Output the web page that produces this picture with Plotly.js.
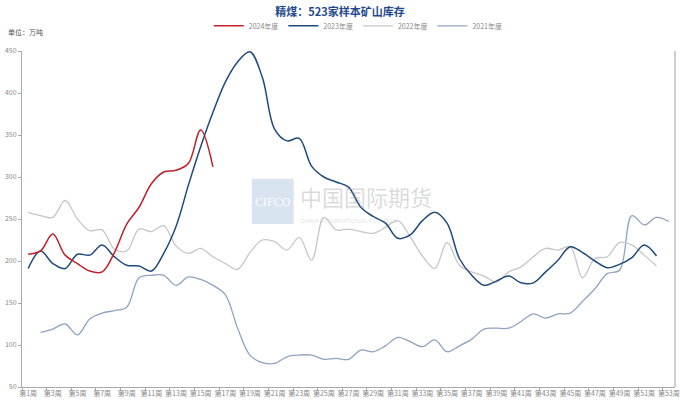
<!DOCTYPE html>
<html><head><meta charset="utf-8">
<script src="https://cdn.plot.ly/plotly-3.0.1.min.js"></script>
<style>html,body{margin:0;padding:0;background:#fff}#chart{width:680px;height:400px}</style>
</head><body><div id="chart"></div>
<script>
const weeks = ["第1周","第2周","第3周","第4周","第5周","第6周","第7周","第8周","第9周","第10周",
"第11周","第12周","第13周","第14周","第15周","第16周","第17周","第18周","第19周","第20周",
"第21周","第22周","第23周","第24周","第25周","第26周","第27周","第28周","第29周","第30周",
"第31周","第32周","第33周","第34周","第35周","第36周","第37周","第38周","第39周","第40周",
"第41周","第42周","第43周","第44周","第45周","第46周","第47周","第48周","第49周","第50周",
"第51周","第52周","第53周"];

const v2024 = [208,212,232,207,197,188,187,210,244,264,292,306,308,316,356,312];

const v2023 = [191,212,197,191,208,207,219,205,195,194,188,209,241,290,336,377,413,437,449,419,
357,343,346,313,300,294,288,264,253,245,227,231,248,258,245,203,183,171,176,182,
174,174,187,201,217,210,200,192,196,204,219,206];

const v2022 = [258,254,252,272,250,236,237,214,212,238,235,242,218,209,215,205,197,190,210,225,
223,213,228,201,252,237,238,235,233,240,248,229,206,191,222,195,187,182,175,187,
193,205,215,213,217,180,203,205,222,219,207,194];

const v2021 = [null,115,119,125,112,131,138,141,145,180,183,183,171,181,178,171,160,120,88,79,
78,86,88,88,83,84,83,94,92,99,109,104,98,106,92,99,107,119,120,120,
128,137,132,137,138,152,167,185,189,254,243,252,247];

const yTicks = [50,100,150,200,250,300,350,400,450];

function tr(name, vals, color, width){
  return {type:'scatter', mode:'lines', name:name,
    x: weeks.slice(0, vals.length), y: vals,
    line:{color:color, width:width, shape:'spline', smoothing:1},
    connectgaps:false, hoverinfo:'skip'};
}

const data = [
  tr('2021年度', v2021, '#8fa3c0', 1.3),
  tr('2022年度', v2022, '#c6c6c6', 1.3),
  tr('2023年度', v2023, '#1f4a7c', 1.5),
  tr('2024年度', v2024, '#c0202a', 1.5)
];

const lblFont = {family:'"Noto Sans CJK SC", "Noto Sans", sans-serif', size:7, color:'#888'};

const layout = {
  width:680, height:400,
  margin:{l:22, r:5, t:51, b:13},
  paper_bgcolor:'#fff', plot_bgcolor:'#fff',
  showlegend:true,
  title:{text:'<b>精煤：523家样本矿山库存</b>', x:0.5, xanchor:'center', y:0.97, yanchor:'middle',
    font:{family:'"Noto Sans CJK SC", sans-serif', size:11, color:'#1f4a8c'}},
  legend:{orientation:'h', x:0.515, xanchor:'center', y:1.075, yanchor:'middle',
    traceorder:'reversed', itemwidth:30, font:lblFont, bgcolor:'rgba(0,0,0,0)'},
  xaxis:{type:'category', categoryorder:'array', categoryarray:weeks,
    range:[-0.5, 52.5], dtick:2, tickson:'boundaries',
    showline:true, linecolor:'#aaa', linewidth:1,
    ticks:'outside', ticklen:3, tickcolor:'#aaa',
    showgrid:false, zeroline:false, tickfont:lblFont, tickangle:0, fixedrange:true},
  yaxis:{range:[50,450], tickvals:yTicks, showline:true, linecolor:'#aaa', linewidth:1,
    ticks:'outside', ticklen:3, tickcolor:'#aaa',
    showgrid:false, zeroline:false, tickfont:lblFont, fixedrange:true},
  shapes:[
    {type:'line', xref:'paper', yref:'paper', x0:1, x1:1, y0:0, y1:1,
      line:{color:'#cfcfcf', width:2}},
    {type:'rect', xref:'paper', yref:'paper', x0:0.352, x1:0.416, y0:0.485, y1:0.62,
      fillcolor:'rgba(190,210,230,0.6)', line:{width:0}, layer:'below'}
  ],
  annotations:[
    {text:'单位：万吨', xref:'paper', yref:'paper', x:-0.025, y:1.035, xanchor:'left', yanchor:'bottom',
      showarrow:false, font:{family:'"Noto Sans CJK SC", sans-serif', size:7, color:'#555'}},
    {text:'CIFCO', xref:'paper', yref:'paper', x:0.384, y:0.552, xanchor:'center', yanchor:'middle',
      showarrow:false, font:{family:'"Liberation Serif", serif', size:12, color:'rgba(255,255,255,0.9)'}},
    {text:'中国国际期货', xref:'paper', yref:'paper', x:0.423, y:0.567, xanchor:'left', yanchor:'middle',
      showarrow:false, font:{family:'"Noto Sans CJK SC", sans-serif', size:22, color:'rgba(150,150,150,0.35)'}},
    {text:'CHINA INTERNATIONAL FUTURES', xref:'paper', yref:'paper', x:0.423, y:0.495, xanchor:'left', yanchor:'middle',
      showarrow:false, font:{family:'"Liberation Sans", sans-serif', size:6, color:'rgba(150,150,150,0.3)'}}
  ]
};

Plotly.newPlot('chart', data, layout, {staticPlot:true, displayModeBar:false});
</script></body></html>
